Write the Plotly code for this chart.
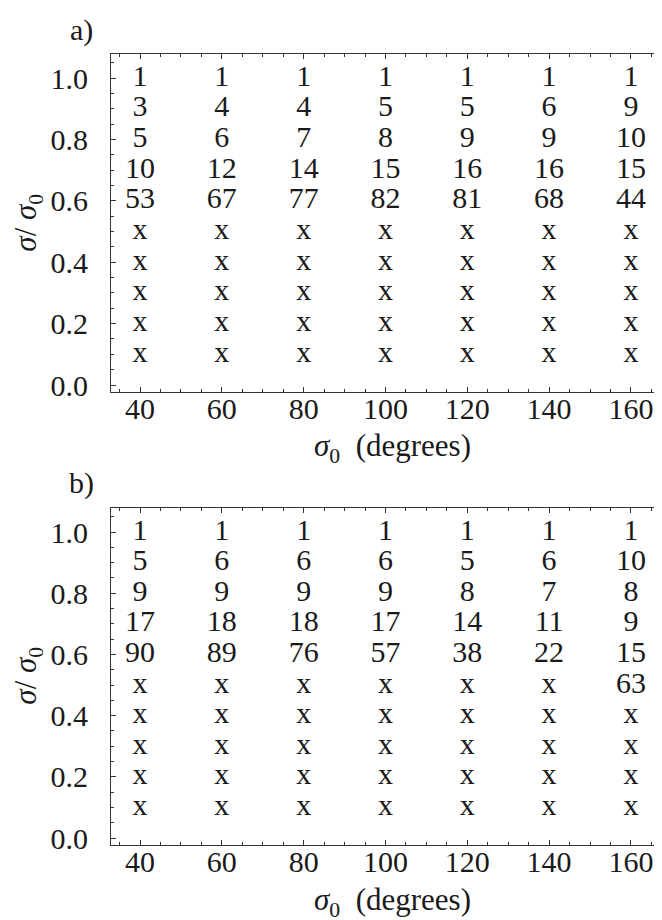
import plotly.graph_objects as go

sigma0 = [40, 60, 80, 100, 120, 140, 160]
ratio = [1.0, 0.9, 0.8, 0.7, 0.6, 0.5, 0.4, 0.3, 0.2, 0.1]

# panel a) rows from ratio 1.0 downward, columns sigma0
panel_a = [
    ["1", "1", "1", "1", "1", "1", "1"],
    ["3", "4", "4", "5", "5", "6", "9"],
    ["5", "6", "7", "8", "9", "9", "10"],
    ["10", "12", "14", "15", "16", "16", "15"],
    ["53", "67", "77", "82", "81", "68", "44"],
    ["x", "x", "x", "x", "x", "x", "x"],
    ["x", "x", "x", "x", "x", "x", "x"],
    ["x", "x", "x", "x", "x", "x", "x"],
    ["x", "x", "x", "x", "x", "x", "x"],
    ["x", "x", "x", "x", "x", "x", "x"],
]
panel_b = [
    ["1", "1", "1", "1", "1", "1", "1"],
    ["5", "6", "6", "6", "5", "6", "10"],
    ["9", "9", "9", "9", "8", "7", "8"],
    ["17", "18", "18", "17", "14", "11", "9"],
    ["90", "89", "76", "57", "38", "22", "15"],
    ["x", "x", "x", "x", "x", "x", "63"],
    ["x", "x", "x", "x", "x", "x", "x"],
    ["x", "x", "x", "x", "x", "x", "x"],
    ["x", "x", "x", "x", "x", "x", "x"],
    ["x", "x", "x", "x", "x", "x", "x"],
]

FONT = "Liberation Serif"
TXT = "#1a1a1a"
W, H = 662, 920
FS = 30

def flat(panel):
    xs, ys, ts = [], [], []
    for r, row in enumerate(panel):
        for c, t in enumerate(row):
            xs.append(sigma0[c]); ys.append(ratio[r]); ts.append(t)
    return xs, ys, ts

fig = go.Figure()
for panel, xa, ya in [(panel_a, "x", "y"), (panel_b, "x2", "y2")]:
    xs, ys, ts = flat(panel)
    fig.add_trace(go.Scatter(x=xs, y=ys, text=ts, mode="text", xaxis=xa, yaxis=ya,
                             textposition="middle center",
                             textfont=dict(family=FONT, size=FS, color=TXT),
                             showlegend=False, hoverinfo="skip"))

xdom = [103 / W, 654 / W]
ydom_a = [1 - 388 / H, 1 - 46 / H]
ydom_b = [1 - 846 / H, 1 - 505 / H]

def xaxis_cfg(anchor):
    return dict(domain=xdom, anchor=anchor, range=[32.9, 167.6],
                tickmode="linear", tick0=40, dtick=20, ticks="inside", ticklen=5,
                tickcolor="#333", tickwidth=1, ticklabelstandoff=-10,
                minor=dict(dtick=5, tick0=40, ticks="inside", ticklen=3, tickcolor="#333"),
                showline=True, linecolor="#333", linewidth=1, mirror="ticks",
                showgrid=False, zeroline=False,
                tickfont=dict(family=FONT, size=FS, color=TXT))

def yaxis_cfg(dom, anchor):
    return dict(domain=dom, anchor=anchor, range=[-0.022, 1.08],
                tickmode="linear", tick0=0, dtick=0.2, ticks="inside", ticklen=5,
                tickcolor="#333", tickwidth=1, tickformat=".1f",
                minor=dict(dtick=0.05, tick0=0, ticks="inside", ticklen=3, tickcolor="#333"),
                showline=True, linecolor="#333", linewidth=1, mirror="ticks",
                showgrid=False, zeroline=False, ticklabelstandoff=16,
                tickfont=dict(family=FONT, size=FS, color=TXT))

fig.update_layout(
    width=W, height=H, margin=dict(l=0, r=0, t=0, b=0),
    paper_bgcolor="white", plot_bgcolor="white",
    xaxis=xaxis_cfg("y"), yaxis=yaxis_cfg(ydom_a, "x"),
    xaxis2=xaxis_cfg("y2"), yaxis2=yaxis_cfg(ydom_b, "x2"),
)

xtitle = "<i>σ</i><sub>0</sub>  (degrees)"
ytitle = "<i>σ</i>/ <i>σ</i><sub>0</sub>"
ann = []
for yc_x, yc_y in [(445, 217), (904, 675)]:
    ann.append(dict(text=xtitle, x=384 / W, y=1 - yc_x / H, xref="paper", yref="paper",
                    showarrow=False, xanchor="center", yanchor="middle",
                    font=dict(family=FONT, size=31, color=TXT)))
    ann.append(dict(text=ytitle, x=20 / W, y=1 - yc_y / H, xref="paper", yref="paper",
                    showarrow=False, xanchor="center", yanchor="middle", textangle=-90,
                    font=dict(family=FONT, size=31, color=TXT)))
for lbl, yy in [("a)", 22), ("b)", 480)]:
    ann.append(dict(text=lbl, x=73 / W, y=1 - yy / H, xref="paper", yref="paper",
                    showarrow=False, xanchor="center", yanchor="middle",
                    font=dict(family=FONT, size=FS, color=TXT)))
fig.update_layout(annotations=ann)

fig.write_html("out.html")
